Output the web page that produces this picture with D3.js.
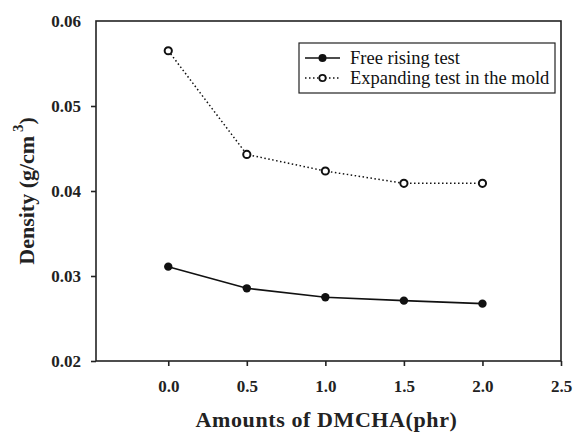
<!DOCTYPE html>
<html>
<head>
<meta charset="utf-8">
<script src="https://cdn.jsdelivr.net/npm/d3@7"></script>
<style>
  body { margin: 0; background: #fff; }
  svg text { font-family: "Liberation Serif", Tinos, "Times New Roman", Times, "DejaVu Serif", serif; }
</style>
</head>
<body>
<svg id="chart" width="578" height="434"></svg>
<script>
// data
const amounts = [0.0, 0.5, 1.0, 1.5, 2.0];
const freeRising = [0.0311, 0.02855, 0.0275, 0.0271, 0.02675];
const expanding = [0.0565, 0.0443, 0.04235, 0.0409, 0.0409];
const xTicks = [0.0, 0.5, 1.0, 1.5, 2.0, 2.5];
const yTicks = [0.02, 0.03, 0.04, 0.05, 0.06];

const svg = d3.select("#chart");
const margin = { top: 21, right: 17, bottom: 73, left: 96 };
const width = 578, height = 434;

const x = d3.scaleLinear()
  .domain([-0.46, 2.5])
  .range([margin.left, width - margin.right]);

const y = d3.scaleLinear()
  .domain([0.02, 0.06])
  .range([height - margin.bottom, margin.top]);

// frame
svg.append("rect")
  .attr("x", margin.left)
  .attr("y", margin.top)
  .attr("width", width - margin.left - margin.right)
  .attr("height", height - margin.top - margin.bottom)
  .attr("fill", "none")
  .attr("stroke", "#222")
  .attr("stroke-width", 1.6);

// axes
const xAxis = svg.append("g")
  .attr("transform", `translate(0,${height - margin.bottom})`)
  .call(d3.axisBottom(x).tickValues(xTicks).tickFormat(d3.format(".1f")).tickSize(5).tickPadding(14));

const yAxis = svg.append("g")
  .attr("transform", `translate(${margin.left},0)`)
  .call(d3.axisLeft(y).tickValues(yTicks).tickFormat(d3.format(".2f")).tickSize(5).tickPadding(10));

[xAxis, yAxis].forEach(a => {
  a.attr("font-family", null).attr("font-size", null);
  a.select(".domain").remove();
  a.selectAll("line").attr("stroke", "#222").attr("stroke-width", 1.6);
  a.selectAll("text")
    .attr("fill", "#222")
    .style("font-size", "17px")
    .style("font-weight", "bold");
});
yAxis.selectAll(".tick").filter(d => d === 0.06).select("line").remove();

// axis titles
svg.append("text")
  .attr("x", (margin.left + width - margin.right) / 2 - 2)
  .attr("y", 427)
  .attr("text-anchor", "middle")
  .style("font-size", "22px")
  .style("font-weight", "bold")
  .style("letter-spacing", "0.6px")
  .attr("fill", "#222")
  .text("Amounts of DMCHA(phr)");

const yTitle = svg.append("text")
  .attr("transform", `translate(34, ${(margin.top + height - margin.bottom) / 2}) rotate(-90)`)
  .attr("text-anchor", "middle")
  .style("font-size", "22px")
  .style("font-weight", "bold")
  .attr("fill", "#222");
yTitle.append("tspan").text("Density (g/cm");
yTitle.append("tspan").attr("dy", -11).style("font-size", "15px").text(" 3");
yTitle.append("tspan").attr("dy", 11).text(")");

const line = d3.line()
  .x((d, i) => x(amounts[i]))
  .y(d => y(d));

// free rising test
svg.append("path")
  .datum(freeRising)
  .attr("d", line)
  .attr("fill", "none")
  .attr("stroke", "#111")
  .attr("stroke-width", 1.6);

svg.append("g")
  .selectAll("circle")
  .data(freeRising)
  .join("circle")
  .attr("cx", (d, i) => x(amounts[i]))
  .attr("cy", d => y(d))
  .attr("r", 4.2)
  .attr("fill", "#111");

// expanding test in the mold
svg.append("path")
  .datum(expanding)
  .attr("d", line)
  .attr("fill", "none")
  .attr("stroke", "#111")
  .attr("stroke-width", 1.5)
  .attr("stroke-dasharray", "1.5,2.5");

svg.append("g")
  .selectAll("circle")
  .data(expanding)
  .join("circle")
  .attr("cx", (d, i) => x(amounts[i]))
  .attr("cy", d => y(d))
  .attr("r", 3.6)
  .attr("fill", "#fff")
  .attr("stroke", "#111")
  .attr("stroke-width", 2);

// legend
const legend = svg.append("g").attr("transform", "translate(299,43)");
legend.append("rect")
  .attr("width", 256)
  .attr("height", 50)
  .attr("fill", "#fff")
  .attr("stroke", "#222")
  .attr("stroke-width", 1.2);

const rows = [
  { label: "Free rising test", dash: null, fill: "#111" },
  { label: "Expanding test in the mold", dash: "1.5,2.5", fill: "#fff" }
];
rows.forEach((r, i) => {
  const g = legend.append("g").attr("transform", `translate(0,${15 + i * 20})`);
  g.append("line")
    .attr("x1", 6).attr("x2", 41)
    .attr("stroke", "#111")
    .attr("stroke-width", 1.5)
    .attr("stroke-dasharray", r.dash);
  g.append("circle")
    .attr("cx", 23.5)
    .attr("r", r.dash ? 3.2 : 4)
    .attr("fill", r.fill)
    .attr("stroke", "#111")
    .attr("stroke-width", r.dash ? 1.8 : 0);
  g.append("text")
    .attr("x", 51)
    .attr("dy", "0.33em")
    .style("font-size", "18.5px")
    .attr("fill", "#111")
    .text(r.label);
});
</script>
</body>
</html>
